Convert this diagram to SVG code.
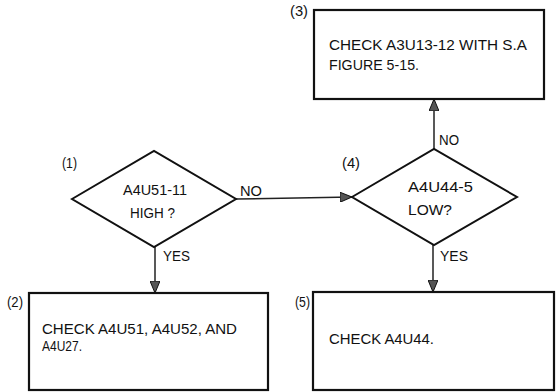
<svg xmlns="http://www.w3.org/2000/svg" width="557" height="392" viewBox="0 0 557 392">
<style>
.box{fill:#fff;stroke:#111;stroke-width:2.2}
.dia{fill:#fff;stroke:#111;stroke-width:2}
.con{fill:none;stroke:#222;stroke-width:1.5}
text{font-family:"Liberation Sans",Arial,sans-serif;fill:#111}
.t{font-size:15.5px}
.d{font-size:15px}
.l{font-size:15px}
</style>
<defs>
<marker id="ah" viewBox="0 0 12 10" refX="12" refY="5" markerWidth="12" markerHeight="10" markerUnits="userSpaceOnUse" orient="auto">
<path d="M0,0 L12,5 L0,10 Z" fill="#555" stroke="#111" stroke-width="1"/>
</marker>
</defs>
<rect width="557" height="392" fill="#fff"/>
<g id="connectors">
<line class="con" x1="236" y1="199" x2="352" y2="197" marker-end="url(#ah)"/>
<line class="con" x1="155" y1="247" x2="155" y2="293" marker-end="url(#ah)"/>
<line class="con" x1="434" y1="149" x2="434" y2="99" marker-end="url(#ah)"/>
<line class="con" x1="433" y1="245" x2="433" y2="292" marker-end="url(#ah)"/>
<text class="l" x="240" y="196" textLength="22" lengthAdjust="spacingAndGlyphs">NO</text>
<text class="l" x="163" y="261" textLength="27" lengthAdjust="spacingAndGlyphs">YES</text>
<text class="l" x="439" y="145" textLength="20" lengthAdjust="spacingAndGlyphs">NO</text>
<text class="l" x="440" y="261" textLength="28" lengthAdjust="spacingAndGlyphs">YES</text>
</g>
<g id="n1">
<polygon class="dia" points="72,199 154,151 236,199 154,247"/>
<text class="l" x="62" y="168" textLength="15" lengthAdjust="spacingAndGlyphs">(1)</text>
<text class="d" x="123" y="195" textLength="64" lengthAdjust="spacingAndGlyphs">A4U51-11</text>
<text class="d" x="130" y="218" textLength="45" lengthAdjust="spacingAndGlyphs">HIGH ?</text>
</g>
<g id="n4">
<polygon class="dia" points="352,197 434,149 517,197 434,245"/>
<text class="l" x="342" y="168" textLength="18" lengthAdjust="spacingAndGlyphs">(4)</text>
<text class="d" x="408" y="192" textLength="65" lengthAdjust="spacingAndGlyphs">A4U44-5</text>
<text class="d" x="408" y="215" textLength="44" lengthAdjust="spacingAndGlyphs">LOW?</text>
</g>
<g id="n3">
<rect class="box" x="314" y="10" width="230" height="89"/>
<text class="l" x="290" y="16" textLength="18" lengthAdjust="spacingAndGlyphs">(3)</text>
<text class="t" x="329" y="50" textLength="198" lengthAdjust="spacingAndGlyphs">CHECK A3U13-12 WITH S.A</text>
<text class="t" x="329" y="70" textLength="90" lengthAdjust="spacingAndGlyphs">FIGURE 5-15.</text>
</g>
<g id="n2">
<rect class="box" x="29" y="293" width="239" height="97"/>
<text class="l" x="7" y="307" textLength="16" lengthAdjust="spacingAndGlyphs">(2)</text>
<text class="t" x="42" y="334" textLength="195" lengthAdjust="spacingAndGlyphs">CHECK A4U51, A4U52, AND</text>
<text class="t" x="42" y="351" textLength="40" lengthAdjust="spacingAndGlyphs">A4U27.</text>
</g>
<g id="n5">
<rect class="box" x="313" y="292" width="241" height="98"/>
<text class="l" x="295" y="307" textLength="15" lengthAdjust="spacingAndGlyphs">(5)</text>
<text class="t" x="329" y="344" textLength="105" lengthAdjust="spacingAndGlyphs">CHECK A4U44.</text>
</g>
</svg>
